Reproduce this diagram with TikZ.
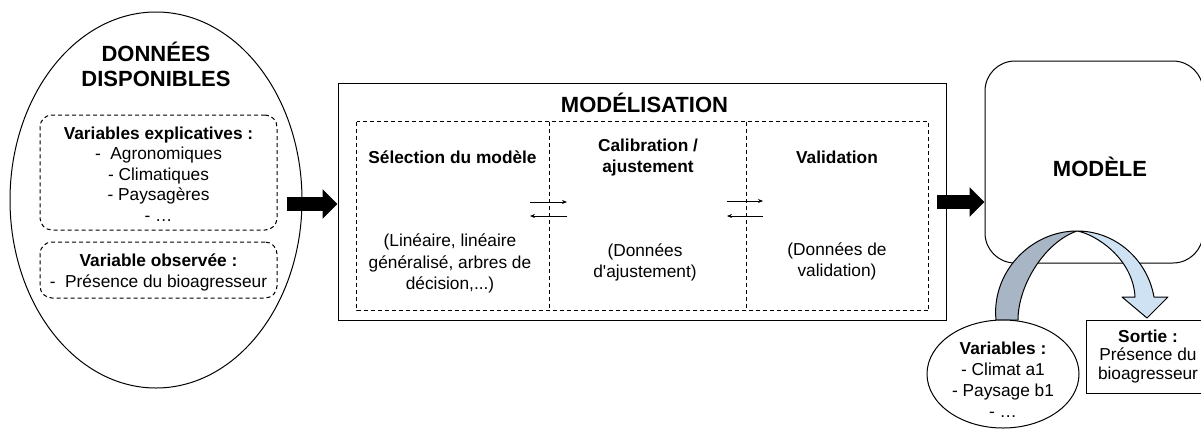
\documentclass[tikz,border=0pt]{standalone}
\usepackage{fontspec}
\setmainfont{Liberation Sans}
\usetikzlibrary{arrows.meta,shapes.geometric}
\definecolor{darkband}{HTML}{A7B5C4}
\definecolor{lightband}{HTML}{CFE2F3}
\begin{document}
\begin{tikzpicture}[x=1pt,y=-1pt,line width=1pt,
  body/.style={font=\fontsize{17.3}{20.5}\selectfont, align=center, inner sep=0pt},
  bbody/.style={font=\fontsize{17.3}{20.5}\selectfont\bfseries, align=center, inner sep=0pt},
  ttl/.style={font=\fontsize{22}{25}\selectfont\bfseries, align=center, inner sep=0pt},
  dsh/.style={draw, dash pattern=on 4pt off 3pt},
  dbox/.style={dsh, rounded corners=12pt, inner sep=0pt},
  plainbox/.style={draw, inner sep=0pt},
  colbox/.style={inner sep=0pt, minimum height=188pt},
  bigarrow/.style={line width=14pt, -{Triangle[length=15pt,width=29pt]}},
  smallarrow/.style={line width=0.8pt, -{Stealth[length=5pt,width=4pt]}}]
\useasboundingbox (0,0) rectangle (1201,429);
\clip (0,0) rectangle (1201,429);

% Donnees disponibles
\node[draw, ellipse, minimum width=292pt, minimum height=376pt, inner sep=0pt] (donnees) at (156,200) {};
\node[ttl] (tdon) at (156,64.5) {DONNÉES\\DISPONIBLES};
\node[dbox, minimum width=237pt, minimum height=115pt] (expl) at (158.5,172.5) {};
\node[body] (texpl) at (158.5,174) {\textbf{Variables explicatives :}\\-\ \ Agronomiques\\- Climatiques\\- Paysagères\\- …};
\node[dbox, minimum width=237pt, minimum height=56pt] (obs) at (158.5,270) {};
\node[body] (tobs) at (158.5,272.5) {\textbf{Variable observée :}\\-\ \ Présence du bioagresseur};

% Modelisation
\node[plainbox, minimum width=608pt, minimum height=237pt] (mod) at (642,201.5) {};
\node[ttl] (tmod) at (644.5,103) {MODÉLISATION};
\node[colbox, minimum width=192pt] (c1) at (453,216) {};
\node[colbox, minimum width=197pt] (c2) at (647.5,216) {};
\node[colbox, minimum width=182pt] (c3) at (837,216) {};
\draw[dsh] (c1.north west) rectangle (c3.south east);
\draw[dsh] (c1.north east) -- (c1.south east);
\draw[dsh] (c2.north east) -- (c2.south east);

\node[bbody] (tsel) at (452.5,157) {Sélection du modèle};
\node[bbody] (tcal) at (648,157.5) {Calibration /\\ajustement};
\node[bbody] (tval) at (837,157) {Validation};
\node[body, font=\fontsize{17.3}{21.5}\selectfont] (tlin) at (450,263.5) {(Linéaire, linéaire\\généralisé, arbres de\\décision,...)};
\node[body] (tdaj) at (645,262.5) {(Données\\d\textquotesingle ajustement)};
\node[body] (tdval) at (837,261.5) {(Données de\\validation)};

\coordinate (s1a) at (530,202);
\coordinate (s1b) at (567,202);
\coordinate (s1c) at (567,216);
\coordinate (s1d) at (530,216);
\draw[smallarrow] (s1a) -- (s1b);
\draw[smallarrow] (s1c) -- (s1d);
\coordinate (s2a) at (727,201);
\coordinate (s2b) at (763,201);
\coordinate (s2c) at (763,216);
\coordinate (s2d) at (727,216);
\draw[smallarrow] (s2a) -- (s2b);
\draw[smallarrow] (s2c) -- (s2d);

% Modele
\node[plainbox, rounded corners=30pt, minimum width=218pt, minimum height=202pt] (modele) at (1094,162) {};
\node[ttl] (tmodele) at (1100,167) {MODÈLE};

% big arrows
\coordinate (a1s) at (287,204);
\draw[bigarrow] (a1s) -- (mod.west |- a1s);
\coordinate (a2s) at (937,202);
\draw[bigarrow] (a2s) -- (modele.west |- a2s);

% curved arrow
\path[draw, fill=lightband, line join=round] (1077,231) .. controls (1115.3,231) and (1147.3,259.3) .. (1154,297)
  -- (1168,297) -- (1147,318) -- (1122,297) -- (1135,297)
  .. controls (1133,258) and (1095,234) .. (1077,231) -- cycle;
\path[draw, fill=darkband, line join=round] (996,320) .. controls (991.2,273.2) and (1029.9,231) .. (1077,231)
  .. controls (1045,242) and (1018,285) .. (1018,320) -- cycle;

% Variables & Sortie
\node[draw, ellipse, fill=white, minimum width=152pt, minimum height=108pt, inner sep=0pt] (vars) at (1003,374) {};
\node[body, font=\fontsize{17.3}{21}\selectfont] (tvars) at (1003,379.5) {\textbf{Variables :}\\- Climat a1\\- Paysage b1\\- …};
\node[plainbox, fill=white, minimum width=124pt, minimum height=73pt] (sortie) at (1148,356.5) {};
\node[body, font=\fontsize{17.3}{18.5}\selectfont] (tsortie) at (1148,356.5) {\textbf{Sortie :}\\Présence du\\bioagresseur};
\end{tikzpicture}
\end{document}
